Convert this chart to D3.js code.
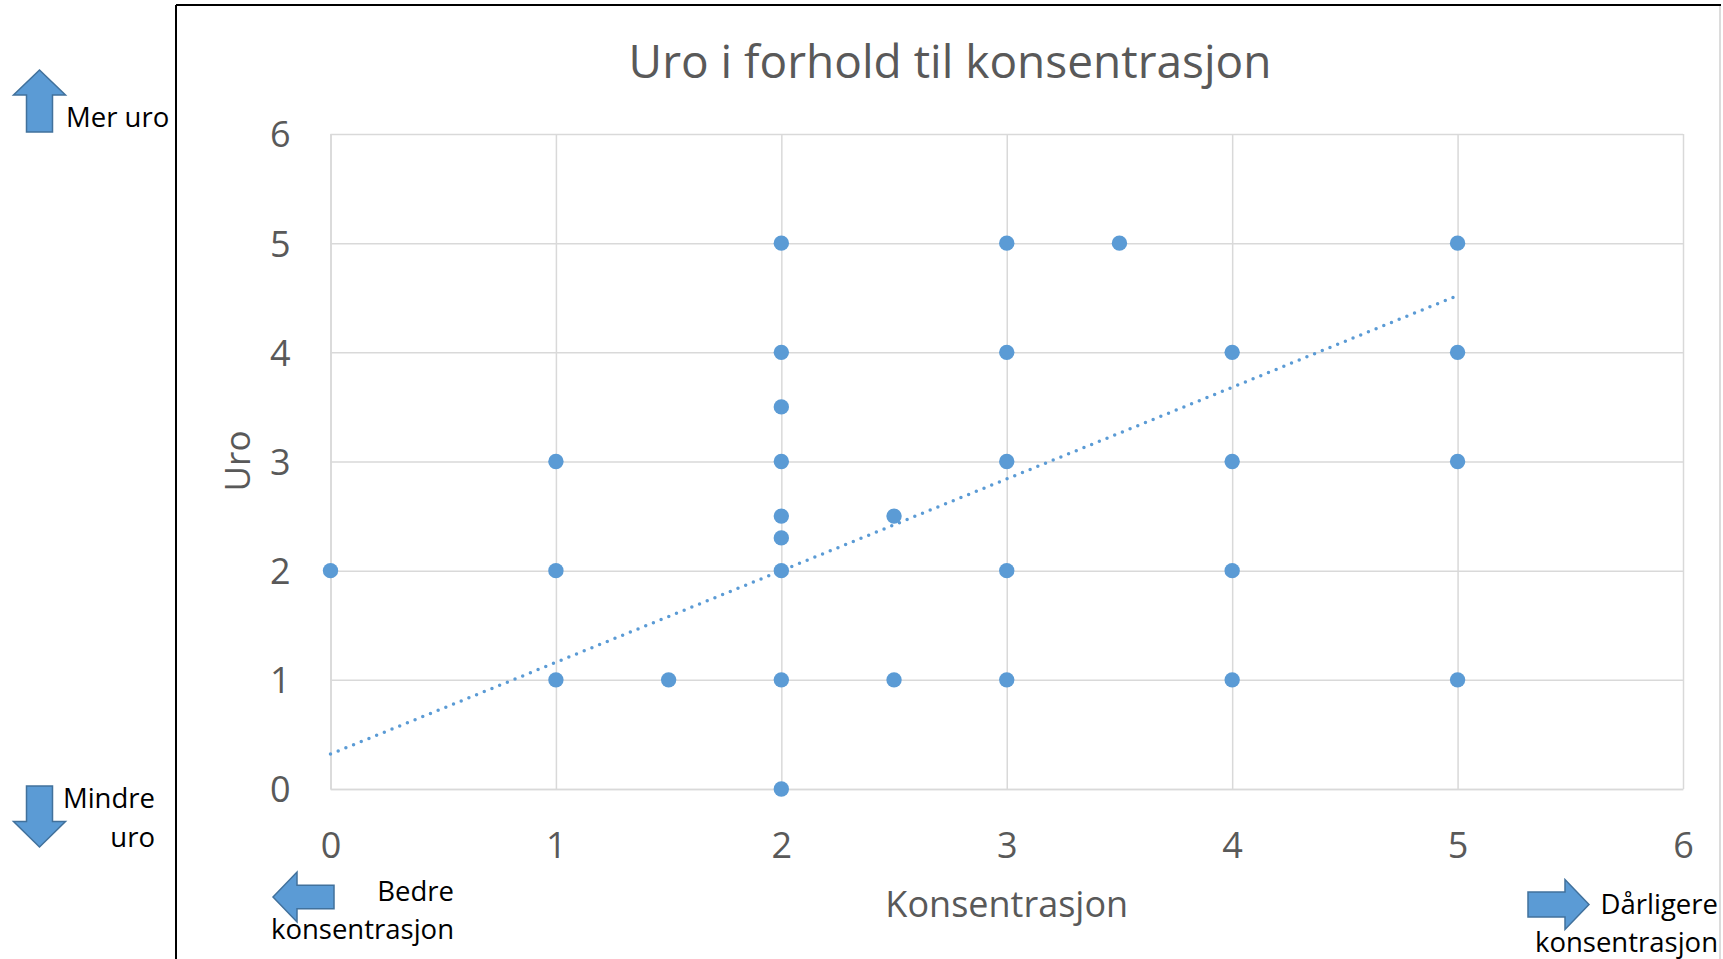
<!DOCTYPE html>
<html>
<head>
<meta charset="utf-8">
<script src="https://cdn.jsdelivr.net/npm/d3@7"></script>
<style>
  body { margin: 0; background: #fff; }
  text { font-family: "Open Sans", sans-serif; }
</style>
</head>
<body>
<svg id="chart" width="1723" height="959"></svg>
<script>
// Data
const konsentrasjon = [0, 1, 1, 1, 1.5, 2, 2, 2, 2, 2, 2, 2, 2, 2, 2.5, 2.5, 3, 3, 3, 3, 3, 3.5, 4, 4, 4, 4, 5, 5, 5, 5];
const uro =           [2, 3, 2, 1, 1,   5, 4, 3.5, 3, 2.5, 2.3, 2, 1, 0, 2.5, 1, 5, 4, 3, 2, 1, 5,   4, 3, 2, 1, 5, 4, 3, 1];
const xTicks = [0, 1, 2, 3, 4, 5, 6];
const yTicks = [0, 1, 2, 3, 4, 5, 6];
// trend line end points (dotted)
const trendX = [0, 5];
const trendY = [0.32, 4.52];

const title = 'Uro i forhold til konsentrasjon';
const xTitle = 'Konsentrasjon';
const yTitle = 'Uro';

const blue = '#5B9BD5';
const arrowStroke = '#41719C';
const grey = '#595959';

const svg = d3.select('#chart');

// Plot area
const plotLeft = 330.5, plotRight = 1683, plotTop = 134, plotBottom = 789;
const x = d3.scaleLinear().domain([0, 6]).range([plotLeft, plotRight]);
const y = d3.scaleLinear().domain([0, 6]).range([plotBottom, plotTop]);

// Chart frame (cut off at the page edges)
svg.append('line').attr('x1', 176).attr('y1', 5).attr('x2', 1721).attr('y2', 5)
    .attr('stroke', '#000').attr('stroke-width', 2);
svg.append('line').attr('x1', 176).attr('y1', 5).attr('x2', 176).attr('y2', 959)
    .attr('stroke', '#000').attr('stroke-width', 2);
svg.append('line').attr('x1', 1720).attr('y1', 6).attr('x2', 1720).attr('y2', 959)
    .attr('stroke', '#d0d0d0').attr('stroke-width', 1.5);

// Gridlines + tick labels via axes
const yAxis = svg.append('g')
    .attr('transform', `translate(${plotLeft},0)`)
    .call(d3.axisLeft(y).tickValues(yTicks).tickFormat(d3.format('d'))
        .tickSizeInner(-(plotRight - plotLeft)).tickSizeOuter(0).tickPadding(40));

const xAxis = svg.append('g')
    .attr('transform', `translate(0,${plotBottom})`)
    .call(d3.axisBottom(x).tickValues(xTicks).tickFormat(d3.format('d'))
        .tickSizeInner(-(plotBottom - plotTop)).tickSizeOuter(0).tickPadding(44));

[yAxis, xAxis].forEach(g => {
    g.select('.domain').attr('stroke', '#d9d9d9').attr('stroke-width', 1.5);
    g.selectAll('.tick line').attr('stroke', '#d9d9d9').attr('stroke-width', 1.5);
    g.selectAll('.tick text')
        .attr('fill', grey)
        .style('font-family', '"Open Sans", sans-serif')
        .style('font-size', '36px');
});
yAxis.selectAll('.tick text').attr('dy', '0.36em');
xAxis.selectAll('.tick text').attr('dy', '0.36em').attr('y', 56.5);

// Trend line (dotted)
svg.append('path')
    .datum(trendX.map((d, i) => [d, trendY[i]]))
    .attr('d', d3.line().x(d => x(d[0])).y(d => y(d[1])))
    .attr('fill', 'none')
    .attr('stroke', blue)
    .attr('stroke-width', 3.5)
    .attr('stroke-linecap', 'round')
    .attr('stroke-dasharray', '0 8.3');

// Points
svg.append('g').selectAll('circle')
    .data(konsentrasjon.map((d, i) => ({ x: d, y: uro[i] })))
    .enter().append('circle')
    .attr('cx', d => x(d.x))
    .attr('cy', d => y(d.y))
    .attr('r', 7.7)
    .attr('fill', blue);

// Titles
svg.append('text')
    .attr('x', 950).attr('y', 78)
    .attr('text-anchor', 'middle')
    .attr('fill', grey)
    .style('font-size', '46px')
    .text(title);

svg.append('text')
    .attr('x', (plotLeft + plotRight) / 2).attr('y', 917)
    .attr('text-anchor', 'middle')
    .attr('fill', grey)
    .style('font-size', '36px')
    .text(xTitle);

svg.append('text')
    .attr('transform', 'translate(237,461) rotate(-90)')
    .attr('text-anchor', 'middle')
    .attr('dy', '0.36em')
    .attr('fill', grey)
    .style('font-size', '35px')
    .text(yTitle);

// Block arrows next to the chart
function arrowPoints(dir, x0, y0, w, h, head, shaft) {
    const cx = x0 + w / 2, cy = y0 + h / 2;
    const sw = w * shaft / 2, sh = h * shaft / 2;
    if (dir === 'up') return [[cx, y0], [x0 + w, y0 + head], [cx + sw, y0 + head], [cx + sw, y0 + h], [cx - sw, y0 + h], [cx - sw, y0 + head], [x0, y0 + head]];
    if (dir === 'down') return [[cx, y0 + h], [x0 + w, y0 + h - head], [cx + sw, y0 + h - head], [cx + sw, y0], [cx - sw, y0], [cx - sw, y0 + h - head], [x0, y0 + h - head]];
    if (dir === 'left') return [[x0, cy], [x0 + head, y0], [x0 + head, cy - sh], [x0 + w, cy - sh], [x0 + w, cy + sh], [x0 + head, cy + sh], [x0 + head, y0 + h]];
    return [[x0 + w, cy], [x0 + w - head, y0], [x0 + w - head, cy - sh], [x0, cy - sh], [x0, cy + sh], [x0 + w - head, cy + sh], [x0 + w - head, y0 + h]];
}

const arrows = [
    ['up', 13.5, 70, 52, 62, 25, 0.5],
    ['down', 13.5, 786, 52, 61, 25.5, 0.5],
    ['left', 273, 872, 61, 50, 24, 0.47],
    ['right', 1528, 879.5, 61, 50, 24, 0.5]
];
svg.append('g').selectAll('polygon')
    .data(arrows)
    .enter().append('polygon')
    .attr('points', d => arrowPoints(...d).map(p => p.join(',')).join(' '))
    .attr('fill', blue)
    .attr('stroke', arrowStroke)
    .attr('stroke-width', 1.5)
    .attr('stroke-linejoin', 'miter');

// Annotation labels
const notes = [
    ['Mer uro', 66, 127, 'start'],
    ['Mindre', 155, 808, 'end'],
    ['uro', 155, 847, 'end'],
    ['Bedre', 454, 901, 'end'],
    ['konsentrasjon', 454, 939, 'end'],
    ['Dårligere', 1718, 914, 'end'],
    ['konsentrasjon', 1718, 952, 'end']
];
svg.append('g').selectAll('text')
    .data(notes)
    .enter().append('text')
    .attr('x', d => d[1]).attr('y', d => d[2])
    .attr('text-anchor', d => d[3])
    .attr('fill', '#000')
    .style('font-size', '27.5px')
    .text(d => d[0]);
</script>
</body>
</html>
